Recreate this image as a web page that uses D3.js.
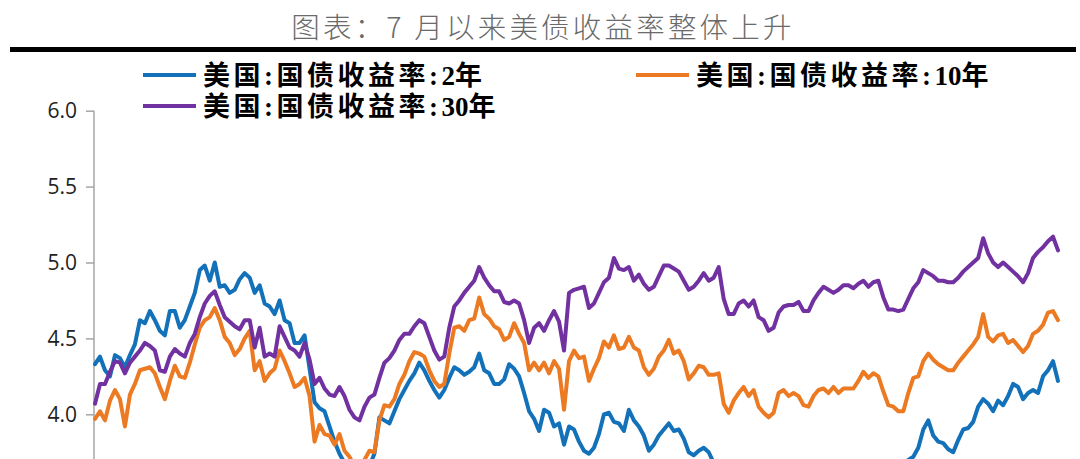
<!DOCTYPE html>
<html><head><meta charset="utf-8">
<script src="https://cdn.jsdelivr.net/npm/d3@7"></script>
<style>
html,body{margin:0;padding:0;background:#fff;overflow:hidden;}
svg{display:block;}
</style></head>
<body><svg id="c" width="1080" height="459"></svg>
<script>
const title = "图表：7 月以来美债收益率整体上升";
const seriesNames = ["美国:国债收益率:2年", "美国:国债收益率:10年", "美国:国债收益率:30年"];
const seriesColors = ["#1271b9", "#ec7a22", "#7231a0"];
const yTicks = [4.0, 4.5, 5.0, 5.5, 6.0];

const y2 = [4.33,4.38,4.29,4.25,4.39,4.37,4.31,4.39,4.46,4.62,
4.60,4.68,4.62,4.55,4.52,4.68,4.68,4.57,4.62,4.71,
4.80,4.95,4.98,4.88,5.00,4.84,4.85,4.80,4.82,4.89,
4.93,4.90,4.80,4.85,4.73,4.71,4.66,4.75,4.62,4.60,
4.47,4.47,4.52,4.30,4.08,4.04,4.02,3.92,3.82,3.74,
3.68,3.62,3.60,3.56,3.60,3.66,3.74,3.98,3.96,3.94,
4.02,4.10,4.16,4.22,4.27,4.34,4.29,4.22,4.16,4.11,
4.16,4.24,4.31,4.29,4.26,4.28,4.31,4.40,4.29,4.27,
4.20,4.20,4.23,4.33,4.30,4.25,4.14,4.02,3.97,3.89,
4.03,4.01,3.92,3.94,3.80,3.92,3.90,3.82,3.76,3.74,
3.78,3.87,4.00,4.01,3.95,3.94,3.89,4.03,3.96,3.92,
3.86,3.76,3.80,3.86,3.90,3.94,3.89,3.90,3.84,3.75,
3.73,3.76,3.78,3.75,3.68,3.62,3.58,3.55,3.57,3.60,
3.56,3.52,3.50,3.53,3.56,3.58,3.55,3.52,3.54,3.57,
3.60,3.58,3.55,3.52,3.50,3.48,3.51,3.54,3.56,3.59,
3.62,3.60,3.56,3.53,3.50,3.47,3.46,3.49,3.52,3.55,
3.58,3.62,3.66,3.70,3.72,3.78,3.90,3.96,3.86,3.82,
3.81,3.77,3.75,3.83,3.90,3.91,3.95,4.05,4.10,4.07,
4.02,4.09,4.06,4.12,4.20,4.18,4.10,4.14,4.16,4.14,
4.25,4.29,4.35,4.22];

const y10 = [3.97,4.02,3.96,4.09,4.16,4.10,3.92,4.13,4.20,4.29,
4.30,4.31,4.27,4.18,4.10,4.22,4.32,4.25,4.24,4.34,
4.46,4.57,4.62,4.64,4.70,4.62,4.51,4.47,4.39,4.43,
4.50,4.55,4.29,4.35,4.22,4.27,4.30,4.42,4.35,4.27,
4.18,4.20,4.24,4.12,3.82,3.93,3.87,3.86,3.80,3.87,
3.76,3.72,3.66,3.64,3.70,3.76,3.75,3.96,4.06,4.05,
4.10,4.20,4.26,4.35,4.41,4.40,4.38,4.29,4.22,4.18,
4.20,4.40,4.57,4.58,4.55,4.62,4.63,4.77,4.66,4.63,
4.58,4.56,4.49,4.51,4.60,4.53,4.47,4.29,4.34,4.29,
4.34,4.27,4.35,4.30,4.03,4.35,4.42,4.37,4.38,4.22,
4.30,4.37,4.48,4.44,4.52,4.43,4.44,4.51,4.44,4.42,
4.31,4.26,4.30,4.38,4.42,4.49,4.40,4.42,4.35,4.23,
4.27,4.32,4.31,4.26,4.26,4.27,4.07,4.01,4.09,4.14,
4.18,4.12,4.16,4.05,4.01,3.98,4.01,4.14,4.16,4.12,
4.14,4.12,4.06,4.05,4.12,4.16,4.17,4.14,4.18,4.14,
4.17,4.17,4.17,4.22,4.28,4.24,4.27,4.25,4.15,4.06,
4.05,4.02,4.02,4.14,4.24,4.25,4.35,4.40,4.36,4.33,
4.31,4.29,4.29,4.34,4.38,4.42,4.46,4.51,4.66,4.51,
4.48,4.52,4.53,4.47,4.49,4.45,4.41,4.45,4.53,4.55,
4.59,4.67,4.68,4.62];

const y30 = [4.07,4.20,4.20,4.28,4.35,4.34,4.27,4.34,4.38,4.42,
4.47,4.45,4.42,4.29,4.28,4.38,4.43,4.40,4.38,4.47,
4.53,4.64,4.73,4.78,4.81,4.72,4.64,4.61,4.58,4.56,
4.62,4.62,4.44,4.57,4.38,4.40,4.38,4.58,4.51,4.44,
4.42,4.38,4.47,4.36,4.20,4.24,4.17,4.13,4.12,4.18,
4.12,4.03,3.98,3.96,4.05,4.11,4.13,4.24,4.34,4.37,
4.42,4.49,4.53,4.53,4.58,4.62,4.60,4.51,4.42,4.36,
4.38,4.57,4.71,4.75,4.80,4.84,4.88,4.97,4.90,4.85,
4.81,4.81,4.74,4.73,4.75,4.73,4.62,4.47,4.57,4.60,
4.55,4.62,4.68,4.61,4.42,4.80,4.82,4.83,4.84,4.70,
4.73,4.80,4.87,4.90,5.03,4.96,4.95,4.97,4.88,4.92,
4.86,4.82,4.84,4.91,4.98,4.98,4.96,4.94,4.88,4.82,
4.84,4.88,4.93,4.88,4.90,4.97,4.76,4.66,4.66,4.73,
4.75,4.71,4.75,4.64,4.62,4.55,4.57,4.67,4.71,4.72,
4.72,4.74,4.68,4.68,4.75,4.80,4.84,4.82,4.80,4.82,
4.85,4.85,4.83,4.86,4.88,4.84,4.87,4.88,4.77,4.69,
4.69,4.68,4.69,4.76,4.83,4.87,4.95,4.93,4.91,4.88,
4.88,4.87,4.87,4.90,4.94,4.97,5.00,5.03,5.16,5.06,
5.00,4.97,5.00,4.97,4.94,4.91,4.87,4.93,5.03,5.07,
5.10,5.14,5.17,5.08];

const allSeries = [y2, y10, y30];

const svg = d3.select("#c");
const N = y2.length;
const x = d3.scaleLinear().domain([0, N - 1]).range([95, 1058]);
const y = d3.scaleLinear().domain([3.0, 6.0]).range([566.1, 110.7]);

// title
svg.append("text")
  .attr("x", 543).attr("y", 38)
  .attr("text-anchor", "middle")
  .attr("font-family", "'Noto Sans CJK SC', sans-serif")
  .attr("font-weight", 300)
  .attr("font-size", 28.5)
  .attr("letter-spacing", 3.2)
  .attr("fill", "#6a6a6a")
  .text(title);

// header rule
svg.append("rect").attr("x", 10).attr("y", 47).attr("width", 1066).attr("height", 5).attr("fill", "#000");

// y axis line (continues below the visible area)
svg.append("line").attr("x1", 94).attr("x2", 94).attr("y1", y(6.0)).attr("y2", 470)
  .attr("stroke", "#a6a6a6").attr("stroke-width", 1.5);
const axis = d3.axisLeft(y).tickValues(yTicks).tickFormat(d3.format(".1f")).tickSize(8).tickPadding(9);
const gA = svg.append("g").attr("transform", "translate(94,0)").call(axis);
gA.select(".domain").remove();
gA.selectAll(".tick line").attr("stroke", "#a6a6a6").attr("stroke-width", 1.5);
gA.selectAll(".tick text")
  .attr("font-family", "'Open Sans', sans-serif")
  .attr("font-size", 21)
  .attr("fill", "#222");

// lines
const line = d3.line().x((d, i) => x(i)).y(d => y(d));
allSeries.forEach((s, k) => {
  svg.append("path").datum(s)
    .attr("d", line)
    .attr("fill", "none")
    .attr("stroke", seriesColors[k])
    .attr("stroke-width", 4)
    .attr("stroke-linejoin", "round")
    .attr("stroke-linecap", "round");
});

// legend
const legendPos = [[143, 75], [636, 75], [143, 106]];
seriesNames.forEach((name, k) => {
  const [lx, ly] = legendPos[k];
  svg.append("line").attr("x1", lx).attr("x2", lx + 53).attr("y1", ly).attr("y2", ly)
    .attr("stroke", seriesColors[k]).attr("stroke-width", 4);
  const t = svg.append("text").attr("x", lx + 60).attr("y", ly + 10)
    .attr("font-family", "'Liberation Serif', 'Noto Sans CJK SC', serif")
    .attr("font-weight", "bold")
    .attr("font-size", 27)
    .attr("fill", "#000");
  // split into runs: digits tight, CJK spaced
  const runs = name.match(/[0-9]+|[^0-9]+/g);
  runs.forEach(r => {
    t.append("tspan").attr("letter-spacing", /[0-9]/.test(r) ? 0 : 3.5).text(r);
  });
});
</script></body></html>
